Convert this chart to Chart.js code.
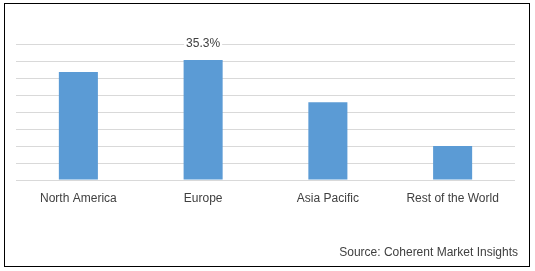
<!DOCTYPE html>
<html>
<head>
<meta charset="utf-8">
<script src="https://cdn.jsdelivr.net/npm/chart.js@4/dist/chart.umd.min.js"></script>
<style>
html,body{margin:0;padding:0;background:#fff;}
#wrap{position:relative;width:535px;height:271px;}
#frame{position:absolute;left:4px;top:3px;width:524px;height:262px;border:1.5px solid #000;box-sizing:content-box;pointer-events:none;}
canvas{position:absolute;left:0;top:0;}
</style>
</head>
<body>
<div id="wrap">
<canvas id="c" width="535" height="271"></canvas>
<div id="frame"></div>
</div>
<script>
const categories = ["North America", "Europe", "Asia Pacific", "Rest of the World"];
const shares = [31.8, 35.3, 22.9, 10.0];
const labelledIndex = [1];
const labelText = ["", "35.3%", "", ""];
const sourceText = "Source: Coherent Market Insights";

const FONT = "'Liberation Sans', Arial, sans-serif";

const extras = {
  id: 'extras',
  afterDatasetsDraw(chart) {
    const ctx = chart.ctx;
    const meta = chart.getDatasetMeta(0);
    ctx.save();
    ctx.font = "12px " + FONT;
    ctx.textAlign = 'center';
    ctx.textBaseline = 'middle';
    labelledIndex.forEach(i => {
      const el = meta.data[i];
      const t = labelText[i];
      const w = ctx.measureText(t).width;
      const y = el.y - 16;
      ctx.fillStyle = '#fff';
      ctx.fillRect(el.x - w/2 - 2, y - 6, w + 4, 12);
      ctx.fillStyle = '#404040';
      ctx.fillText(t, el.x, y);
    });
    ctx.textAlign = 'right';
    ctx.textBaseline = 'alphabetic';
    ctx.fillStyle = '#404040';
    ctx.fillText(sourceText, 518, 256);
    ctx.restore();
  }
};

new Chart(document.getElementById('c'), {
  type: 'bar',
  data: {
    labels: categories,
    datasets: [{
      data: shares,
      backgroundColor: '#5B9BD5',
      borderWidth: 0,
      barPercentage: 0.313,
      categoryPercentage: 1.0
    }]
  },
  options: {
    responsive: false,
    animation: false,
    events: [],
    layout: { padding: { left: 16, right: 20, top: 44, bottom: 0 } },
    plugins: { legend: { display: false }, tooltip: { enabled: false } },
    scales: {
      x: {
        grid: { display: false, drawTicks: false },
        border: { display: false },
        ticks: { color: '#404040', font: { family: FONT, size: 12 }, padding: 11, maxRotation: 0 },
        afterFit(s) { s.height = 91; }
      },
      y: {
        min: 0, max: 40,
        ticks: { display: false, stepSize: 5 },
        grid: { color: '#D9D9D9', lineWidth: 1, drawTicks: false },
        border: { display: false },
        afterFit(s) { s.width = 0; }
      }
    }
  },
  plugins: [extras]
});
</script>
</body>
</html>
